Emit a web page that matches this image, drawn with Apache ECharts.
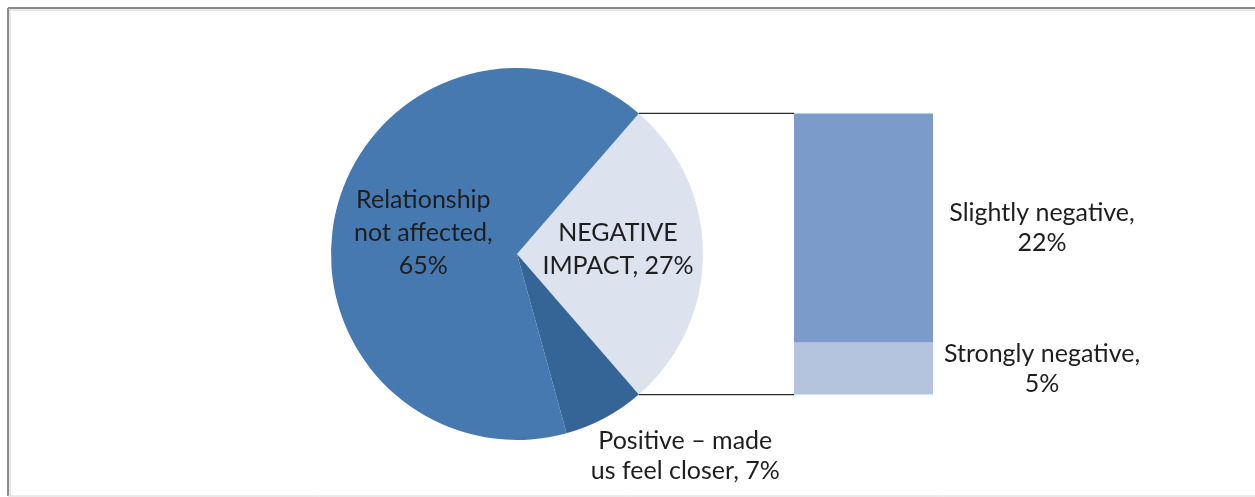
<!DOCTYPE html>
<html>
<head>
<meta charset="utf-8">
<script src="https://cdn.jsdelivr.net/npm/echarts@6/dist/echarts.min.js"></script>
<style>
  html, body { margin: 0; padding: 0; background: #ffffff; }
  #chart { width: 1255px; height: 497px; }
</style>
</head>
<body>
<div id="chart"></div>
<script>
// Pie: overall effect on the relationship
const pieNames = ['NEGATIVE IMPACT', 'Positive – made us feel closer', 'Relationship not affected'];
const pieValues = [27, 7, 65];
const pieLabels = ['NEGATIVE\nIMPACT, 27%', 'Positive – made\nus feel closer, 7%', 'Relationship\nnot affected,\n65%'];
const pieColors = ['#dce3ef', '#356596', '#4779b1'];

// Bar: breakdown of the negative slice (bottom to top)
const barNames = ['Strongly negative', 'Slightly negative'];
const barValues = [5, 22];
const barLabels = ['Strongly negative,\n5%', 'Slightly negative,\n22%'];
const barColors = ['#b4c4df', '#7b9bca'];

// Layout
const pieCenter = [517, 254];
const pieRadius = 186;
const barLeft = 794;
const barWidth = 139;
const FONT = 'Lato';
const TEXT = '#1e1e1e';
const FONT_SIZE = 25;

const pieTotal = pieValues.reduce((a, b) => a + b, 0);
const barTotal = barValues.reduce((a, b) => a + b, 0);
// centre the negative slice on the horizontal axis, opening towards the bar
const startAngle = 180 * pieValues[0] / pieTotal;
const rad = startAngle * Math.PI / 180;
// the bar spans the vertical extent of the negative slice
const sliceHalfHeight = pieRadius * Math.sin(rad);
const gridBox = {
  left: barLeft,
  width: barWidth,
  top: pieCenter[1] - sliceHalfHeight,
  height: 2 * sliceHalfHeight
};

const chart = echarts.init(document.getElementById('chart'), null, { renderer: 'canvas' });

chart.setOption({
  animation: false,
  backgroundColor: '#ffffff',
  textStyle: { fontFamily: FONT },
  grid: Object.assign({ containLabel: false }, gridBox),
  xAxis: { type: 'category', data: [''], show: false },
  yAxis: { type: 'value', min: 0, max: barTotal, show: false },
  series: [
    {
      type: 'pie',
      center: pieCenter,
      radius: pieRadius,
      startAngle: startAngle,
      clockwise: true,
      silent: true,
      itemStyle: { borderWidth: 0 },
      label: {
        position: 'inside',
        fontFamily: FONT,
        fontSize: FONT_SIZE,
        lineHeight: 33,
        color: TEXT,
        align: 'center',
        formatter: p => pieLabels[p.dataIndex]
      },
      labelLine: { show: false },
      labelLayout: function (p) {
        if (p.dataIndex === 0) return { dx: 2.5, dy: -2.5 };
        if (p.dataIndex === 1) return { dx: 33, dy: 10, align: 'center' };
        return {};
      },
      data: pieValues.map((v, i) => {
        const item = { name: pieNames[i], value: v, itemStyle: { color: pieColors[i] } };
        if (i === 1) {
          item.label = { position: 'outside', lineHeight: 30 };
          item.labelLine = { show: false, length: 20, length2: 0 };
        }
        return item;
      })
    },
    ...barValues.map((v, i) => ({
      type: 'bar',
      name: barNames[i],
      stack: 'negative',
      barWidth: '100%',
      silent: true,
      itemStyle: { color: barColors[i] },
      label: {
        show: true,
        position: 'right',
        distance: 109,
        align: 'center',
        verticalAlign: 'middle',
        fontFamily: FONT,
        fontSize: FONT_SIZE,
        lineHeight: 30,
        color: TEXT,
        formatter: () => barLabels[i]
      },
      data: [v]
    }))
  ]
});

// Connector lines from the negative slice's edges to the bar's top and bottom corners
const pieTop = [pieCenter[0] + pieRadius * Math.cos(rad), pieCenter[1] - sliceHalfHeight];
const pieBottom = [pieTop[0], pieCenter[1] + sliceHalfHeight];
const barTopY = chart.convertToPixel({ gridIndex: 0 }, [0, barTotal])[1];
const barBottomY = chart.convertToPixel({ gridIndex: 0 }, [0, 0])[1];

chart.setOption({
  graphic: [
    { type: 'line', shape: { x1: pieTop[0], y1: pieTop[1], x2: barLeft, y2: barTopY },
      style: { stroke: '#2a2a2a', lineWidth: 1.2 }, silent: true },
    { type: 'line', shape: { x1: pieBottom[0], y1: pieBottom[1], x2: barLeft, y2: barBottomY },
      style: { stroke: '#2a2a2a', lineWidth: 1.2 }, silent: true },
    // chart area frame
    { type: 'line', shape: { x1: 8, y1: 8, x2: 1255, y2: 8 }, style: { stroke: '#8a8a8a', lineWidth: 2 }, silent: true },
    { type: 'line', shape: { x1: 8, y1: 8, x2: 8, y2: 496 }, style: { stroke: '#8a8a8a', lineWidth: 2 }, silent: true },
    { type: 'line', shape: { x1: 9, y1: 10, x2: 1255, y2: 10 }, style: { stroke: '#d0d0d0', lineWidth: 1 }, silent: true },
    { type: 'line', shape: { x1: 10, y1: 10, x2: 10, y2: 496 }, style: { stroke: '#d0d0d0', lineWidth: 1 }, silent: true },
    { type: 'line', shape: { x1: 8, y1: 496, x2: 1255, y2: 496 }, style: { stroke: '#d4d4d4', lineWidth: 1 }, silent: true }
  ]
});
</script>
</body>
</html>
